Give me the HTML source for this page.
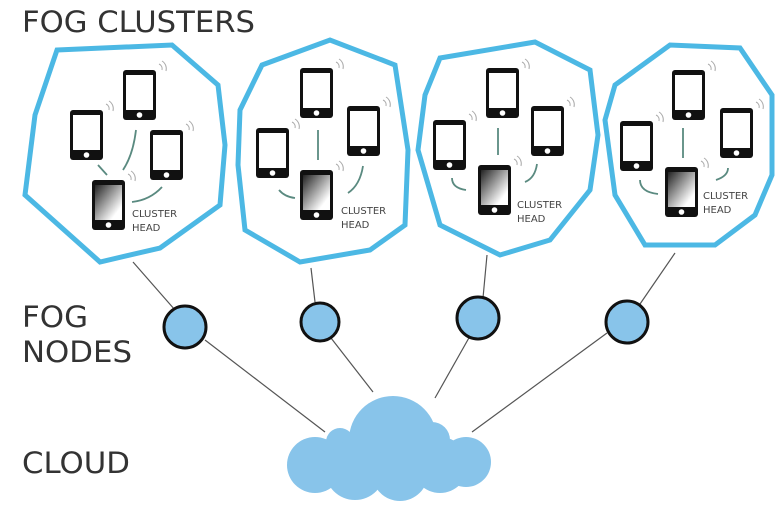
<!DOCTYPE html>
<html><head><meta charset="utf-8"><style>
html,body{margin:0;padding:0;background:#fff;}
svg{display:block;}
.t{font-family:"DejaVu Sans","Liberation Sans",sans-serif;fill:#333;}
.l{font-family:"DejaVu Sans","Liberation Sans",sans-serif;fill:#444;font-size:10px;}
</style></head><body>
<svg width="778" height="506" viewBox="0 0 778 506" xmlns="http://www.w3.org/2000/svg">
<defs>
<linearGradient id="g" x1="0" y1="0" x2="1" y2="1">
<stop offset="0" stop-color="#222"/><stop offset="0.8" stop-color="#fff"/></linearGradient>
<g id="ph">
<rect x="0" y="0" width="33" height="50" rx="3" fill="#111"/>
<rect x="3" y="5" width="27" height="35" fill="#fff"/>
<circle cx="16.5" cy="45" r="2.8" fill="#fff"/>
<path d="M36,-6 a5,5 0 0 1 3,6 M39,-9 a9,9 0 0 1 4,10" stroke="#aaa" fill="none" stroke-width="1"/>
</g>
<g id="hd">
<rect x="0" y="0" width="33" height="50" rx="3" fill="#111"/>
<rect x="3" y="5" width="27" height="35" fill="url(#g)"/>
<circle cx="16.5" cy="45" r="2.8" fill="#fff"/>
<path d="M36,-6 a5,5 0 0 1 3,6 M39,-9 a9,9 0 0 1 4,10" stroke="#aaa" fill="none" stroke-width="1"/>
</g>
</defs>
<text class="t" x="22" y="32" font-size="29" textLength="233" lengthAdjust="spacingAndGlyphs">FOG CLUSTERS</text>
<text class="t" x="22" y="327" font-size="29" textLength="66" lengthAdjust="spacingAndGlyphs">FOG</text>
<text class="t" x="22" y="362" font-size="29" textLength="110" lengthAdjust="spacingAndGlyphs">NODES</text>
<text class="t" x="22" y="473" font-size="29" textLength="108" lengthAdjust="spacingAndGlyphs">CLOUD</text>

<g stroke="#555" stroke-width="1.2">
<line x1="133" y1="262" x2="175" y2="310"/>
<line x1="205" y1="340" x2="325" y2="432"/>
<line x1="311" y1="268" x2="315" y2="302"/>
<line x1="331" y1="338" x2="373" y2="392"/>
<line x1="487" y1="255" x2="483" y2="298"/>
<line x1="470" y1="336" x2="435" y2="398"/>
<line x1="675" y1="253" x2="640" y2="304"/>
<line x1="607" y1="333" x2="472" y2="432"/>
</g>

<g fill="none" stroke="#4cb8e4" stroke-width="5" stroke-linejoin="miter">
<polygon points="57,50 172,45 218,85 225,145 220,205 160,248 100,262 25,195 35,115"/>
<polygon points="262,65 330,40 395,65 408,150 405,225 370,250 300,262 245,230 238,165 240,110"/>
<polygon points="440,58 535,42 590,70 598,135 590,190 550,240 500,255 440,225 418,150 425,95"/>
<polygon points="615,85 670,45 740,48 772,95 772,175 755,215 715,245 645,245 615,195 605,120"/>
</g>

<g stroke="#5a8a80" stroke-width="1.8" fill="none">
<path d="M98,165 L107,175"/><path d="M136,130 Q133,155 123,170"/><path d="M162,187 Q150,200 132,202"/>
<path d="M318,130 L318,160"/><path d="M279,190 Q285,197 295,198"/><path d="M363,166 Q360,185 348,193"/>
<path d="M498,128 L498,155"/><path d="M452,178 Q452,188 466,190"/><path d="M537,164 Q535,178 525,182"/>
<path d="M683,128 L683,158"/><path d="M640,180 Q640,192 658,194"/><path d="M728,168 Q728,176 716,180"/>
</g>

<use href="#ph" x="123" y="70"/><use href="#ph" x="70" y="110"/><use href="#ph" x="150" y="130"/><use href="#hd" x="92" y="180"/>
<use href="#ph" x="300" y="68"/><use href="#ph" x="256" y="128"/><use href="#ph" x="347" y="106"/><use href="#hd" x="300" y="170"/>
<use href="#ph" x="486" y="68"/><use href="#ph" x="433" y="120"/><use href="#ph" x="531" y="106"/><use href="#hd" x="478" y="165"/>
<use href="#ph" x="672" y="70"/><use href="#ph" x="620" y="121"/><use href="#ph" x="720" y="108"/><use href="#hd" x="665" y="167"/>

<text class="l" x="132" y="217">CLUSTER</text><text class="l" x="132" y="231">HEAD</text>
<text class="l" x="341" y="214">CLUSTER</text><text class="l" x="341" y="228">HEAD</text>
<text class="l" x="517" y="208">CLUSTER</text><text class="l" x="517" y="222">HEAD</text>
<text class="l" x="703" y="199">CLUSTER</text><text class="l" x="703" y="213">HEAD</text>

<g fill="#88c4ea" stroke="#111" stroke-width="3">
<circle cx="185" cy="327" r="21"/>
<circle cx="320" cy="322" r="19"/>
<circle cx="478" cy="318" r="21"/>
<circle cx="627" cy="322" r="21"/>
</g>

<g fill="#88c4ea">
<circle cx="393" cy="440" r="44"/>
<circle cx="340" cy="442" r="14"/>
<circle cx="315" cy="465" r="28"/>
<circle cx="355" cy="470" r="30"/>
<circle cx="400" cy="473" r="28"/>
<circle cx="440" cy="465" r="28"/>
<circle cx="466" cy="462" r="25"/>
<circle cx="432" cy="440" r="18"/>
</g>
</svg>
</body></html>
